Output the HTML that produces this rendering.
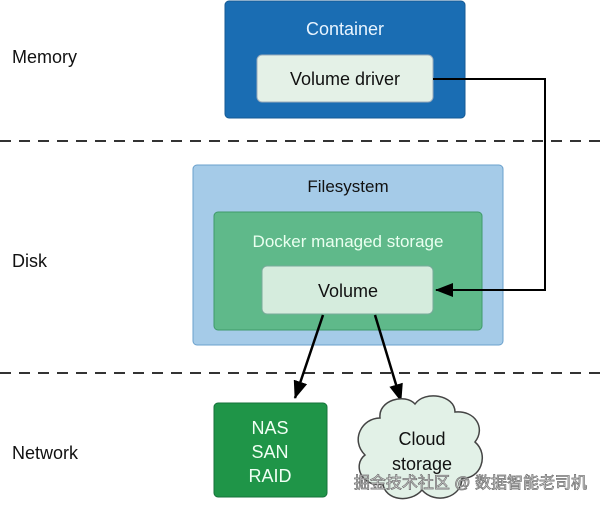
<!DOCTYPE html>
<html><head><style>
body{margin:0;width:600px;height:505px;background:#fff;overflow:hidden;font-family:"Liberation Sans","Noto Sans CJK SC",sans-serif;}
</style></head><body>
<svg width="600" height="505" viewBox="0 0 600 505" xmlns="http://www.w3.org/2000/svg" font-family="Liberation Sans, Noto Sans CJK SC, sans-serif">
<defs><marker id="a" markerWidth="10" markerHeight="10" refX="9" refY="5" orient="auto" markerUnits="userSpaceOnUse"><path d="M0,0 L10,5 L0,10 z" fill="#000"/></marker>
<marker id="b" markerWidth="18" markerHeight="14" refX="17" refY="7" orient="auto" markerUnits="userSpaceOnUse"><path d="M0,0 L18,7 L0,14 z" fill="#000"/></marker></defs>
<g font-size="18" fill="#111">
<text x="12" y="63">Memory</text><text x="12" y="267">Disk</text><text x="12" y="459">Network</text></g>
<line x1="0" y1="141" x2="600" y2="141" stroke="#333" stroke-width="2" stroke-dasharray="11,8"/>
<line x1="0" y1="373" x2="600" y2="373" stroke="#333" stroke-width="2" stroke-dasharray="11,8"/>
<rect x="225" y="1" width="240" height="117" rx="4" fill="#1a6db3" stroke="#155a94"/>
<text x="345" y="35" font-size="18" fill="#e8f4ff" text-anchor="middle">Container</text>
<rect x="257" y="55" width="176" height="47" rx="5" fill="#e4f1e7" stroke="#9ab"/>
<text x="345" y="85" font-size="18" text-anchor="middle" fill="#111">Volume driver</text>
<rect x="193" y="165" width="310" height="180" rx="4" fill="#a5cbe8" stroke="#6aa0cc"/>
<text x="348" y="192" font-size="17" text-anchor="middle" fill="#111">Filesystem</text>
<rect x="214" y="212" width="268" height="118" rx="4" fill="#5fb98a" stroke="#3f9a6a"/>
<text x="348" y="247" font-size="17" text-anchor="middle" fill="#eafff0">Docker managed storage</text>
<rect x="262" y="266" width="171" height="48" rx="5" fill="#d5ecdd" stroke="#7a9"/>
<text x="348" y="297" font-size="18" text-anchor="middle" fill="#111">Volume</text>
<polyline points="433,79 545,79 545,290 436,290" fill="none" stroke="#000" stroke-width="2" marker-end="url(#b)"/>
<line x1="323" y1="315" x2="295" y2="398" stroke="#000" stroke-width="2.5" marker-end="url(#b)"/>
<line x1="375" y1="315" x2="401" y2="401" stroke="#000" stroke-width="2.5" marker-end="url(#b)"/>
<rect x="214" y="403" width="113" height="94" rx="4" fill="#1f9548" stroke="#15723a"/>
<g font-size="18" fill="#f0fff4" text-anchor="middle"><text x="270" y="434">NAS</text><text x="270" y="458">SAN</text><text x="270" y="482">RAID</text></g>
<path d="M380,418 C378,400 405,393 415,404 C425,390 455,395 455,412 C475,410 486,428 475,442 C490,455 480,480 462,478 C462,498 435,505 422,490 C410,504 385,500 383,484 C362,488 352,465 365,455 C350,440 362,418 380,418 z" fill="#e2f1e7" stroke="#444" stroke-width="1.5"/>
<g font-size="18" fill="#111" text-anchor="middle"><text x="422" y="445">Cloud</text><text x="422" y="470">storage</text></g>
<text x="587" y="488" font-size="16" fill="#fff" stroke="#777" stroke-width="0.8" text-anchor="end">掘金技术社区 @ 数据智能老司机</text>
</svg>
</body></html>
